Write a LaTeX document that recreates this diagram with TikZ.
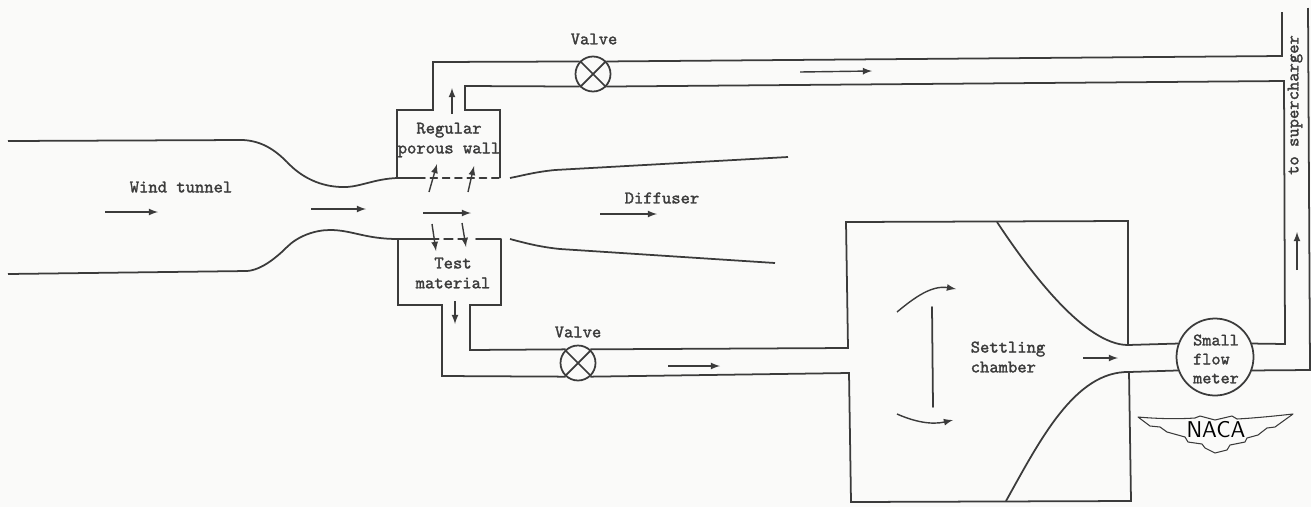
\documentclass[tikz,border=0pt]{standalone}
\usepackage{fontspec}
\usepackage{tkz-euclide}
\usetikzlibrary{arrows,calc}
\newfontfamily\typefont{Latin Modern Mono}[FakeBold=1.6]
\definecolor{ShapeClr}{rgb}{0.23,0.23,0.23}
\definecolor{PaperClr}{rgb}{0.98,0.98,0.975}
\tikzset{
  flow/.style={-latex,line width=.8pt,color=ShapeClr},
  valve/.style={circle,draw=ShapeClr,line width=1pt,minimum size=35*.2mm,inner sep=0pt},
  lbl/.style={font=\typefont\fontsize{10.1}{11.3}\selectfont,text=ShapeClr,inner sep=0pt,align=center},
}

\begin{document}
\begin{tikzpicture}[x=.2mm,y=-.2mm]
\fill[PaperClr] (0,0) rectangle (1311,507);
\useasboundingbox (0,0) rectangle (1311,507);
\tkzSetUpLine[line width=1pt,color=ShapeClr]

\tkzDefPoints{8/141/Ta,243/140/Tb,347/187/Tc,397/178/Td,418/178/Te,500/178/Tf,
  8/274/Ba,247/271/Bb,330/230/Bc,398/239/Bd,430/239/Be,470/239/Bf,476/239/Bg,501/239/Bh,
  510/178/Da,788/157/Db,510/239/Dc,775/263/Dd}
\tkzDefPoints{397/110/Ua,433/110/Ub,433/62/Uc,465/86/Ud,465/110/Ue,500/110/Uf,
  1282/56/Ug,1282/12/Uh,1284/81/Ui,1285/344/Uj,1310/370/Uk,1308/8/Ul}
\tkzDefPoints{398/305/La,442/305/Lb,442/376/Lc,470/350/Ld,470/305/Le,501/305/Lf}
\tkzDefPoints{846/222/Sa,848/348/Sb,849/373/Sc,851/502/Sd,1131/501/Se,1129/372/Sf,
  1128/345/Sg,1128/221/Sh,997/222/Si,1006/501/Sj,932/307/Sk,933/407/Sl}

% valves and flow meter
\node[valve] (VT) at (593,74) {};
\node[valve] (VB) at (578,363) {};
\node[valve,minimum size=77*.2mm] (FM) at (1215,357) {};
\draw[line width=1pt,ShapeClr] (VT.45)--(VT.225) (VT.135)--(VT.315);
\draw[line width=1pt,ShapeClr] (VB.45)--(VB.225) (VB.135)--(VB.315);

% tunnel
\draw[line width=1pt,ShapeClr] (Ta)--(Tb) .. controls (262,141) and (275,150) .. (287,162)
  .. controls (300,176) and (320,188) .. (Tc) .. controls (362,186) and (375,179) .. (Td)--(Te);
\draw[line width=1pt,ShapeClr] (Ba)--(Bb) .. controls (262,270) and (278,256) .. (287,247)
  .. controls (298,236) and (315,230) .. (Bc) .. controls (352,230) and (365,239) .. (Bd)--(Be);
\tkzDrawSegment[line width=.9pt,color=ShapeClr,dash pattern=on 4pt off 3pt](Te,Tf)
\tkzDrawSegment[line width=.9pt,color=ShapeClr,dash pattern=on 5pt off 3pt](Be,Bf)
\tkzDrawSegment(Bg,Bh)

% diffuser
\draw[line width=1pt,ShapeClr] (Da) .. controls (525,175) and (535,172) .. (555,170)--(Db);
\draw[line width=1pt,ShapeClr] (Dc) .. controls (525,243) and (540,247) .. (560,249)--(Dd);

% pipes
\draw[line width=1pt,ShapeClr] (Td)--(Ua)--(Ub)--(Uc)--(VT.137);
\draw[line width=1pt,ShapeClr] (VT.223)--(Ud)--(Ue)--(Uf)--(Tf);
\draw[line width=1pt,ShapeClr] (VT.43)--(Ug)--(Uh);
\draw[line width=1pt,ShapeClr] (VT.317)--(Ui)--(Uj)--(FM.20);
\draw[line width=1pt,ShapeClr] (FM.340)--(Uk)--(Ul);
\draw[line width=1pt,ShapeClr] (Bd)--(La)--(Lb)--(Lc)--(VB.228);
\draw[line width=1pt,ShapeClr] (VB.132)--(Ld)--(Le)--(Lf)--(Bh);
\draw[line width=1pt,ShapeClr] (VB.48)--(Sb)--(Sa)--(Sh)--(Sg)--(FM.160);
\draw[line width=1pt,ShapeClr] (VB.312)--(Sc)--(Sd)--(Se)--(Sf)--(FM.200);

% nozzle
\draw[line width=1pt,ShapeClr] (Si) .. controls (1030,272) and (1085,345) .. (Sg);
\draw[line width=1pt,ShapeClr] (Sj) .. controls (1040,440) and (1075,371) .. (Sf);
\tkzDrawSegment(Sk,Sl)

% arrows
\draw[flow] (105,212) -- (158,212);
\draw[flow] (311,209) -- (366,209);
\draw[flow] (423,213) -- (471,213);
\draw[flow] (429,192) -- (437,164);
\draw[flow] (468,192) -- (474,166);
\draw[flow] (432,224) -- (436,251);
\draw[flow] (462,223) -- (466,247);
\draw[flow] (452,114) -- (452,88);
\draw[flow] (455,301) -- (455,324);
\draw[flow] (800,72) -- (872,71);
\draw[flow] (600,214) -- (657,214);
\draw[flow] (668,366) -- (720,366);
\draw[flow] (1083,358) -- (1118,358);
\draw[flow] (1297,270) -- (1297,232);
\draw[flow] (897,312) .. controls (915,297) and (932,285) .. (956,289);
\draw[flow] (897,414) .. controls (915,422) and (932,425) .. (953,420);

% labels
\node[lbl] (WindLbl) at (181,187) {Wind tunnel};
\node[lbl] (ValveTLbl) at (594,39) {Valve};
\node[lbl] (ValveBLbl) at (578,332) {Valve};
\node[lbl] (WallLbl) at (449,140) {Regular\\porous wall};
\node[lbl] (TestLbl) at (453,273) {Test\\material};
\node[lbl] (DiffLbl) at (662,198) {Diffuser};
\node[lbl,align=left] (SettleLbl) at (1008,357) {Settling\\chamber};
\node[lbl,align=left,font=\typefont\fontsize{9.9}{10.8}\selectfont] (MeterLbl) at (1216,359) {Small\\flow\\meter};
\node[lbl,rotate=90] (SuperLbl) at (1295,105) {to supercharger};

% logo
\draw[line width=.6pt,ShapeClr,line join=round] (1138,417) .. controls (1160,419) and (1180,419) .. (1195,418)
  -- (1200,416) -- (1215,420) -- (1232,416) -- (1237,419) .. controls (1255,418) and (1275,416) .. (1293,414)
  -- (1275,427) -- (1267,428) -- (1258,435) -- (1247,438) -- (1245,442) -- (1230,445) -- (1227,450)
  -- (1215,453) -- (1205,448) -- (1202,444) -- (1188,442) -- (1185,437) -- (1167,432) -- (1160,427)
  -- (1150,426) -- cycle;
\node[font=\sffamily\fontsize{13}{13}\selectfont,text=black,inner sep=0pt] (NacaLbl) at (1216,430) {NACA};

\end{tikzpicture}
\end{document}
